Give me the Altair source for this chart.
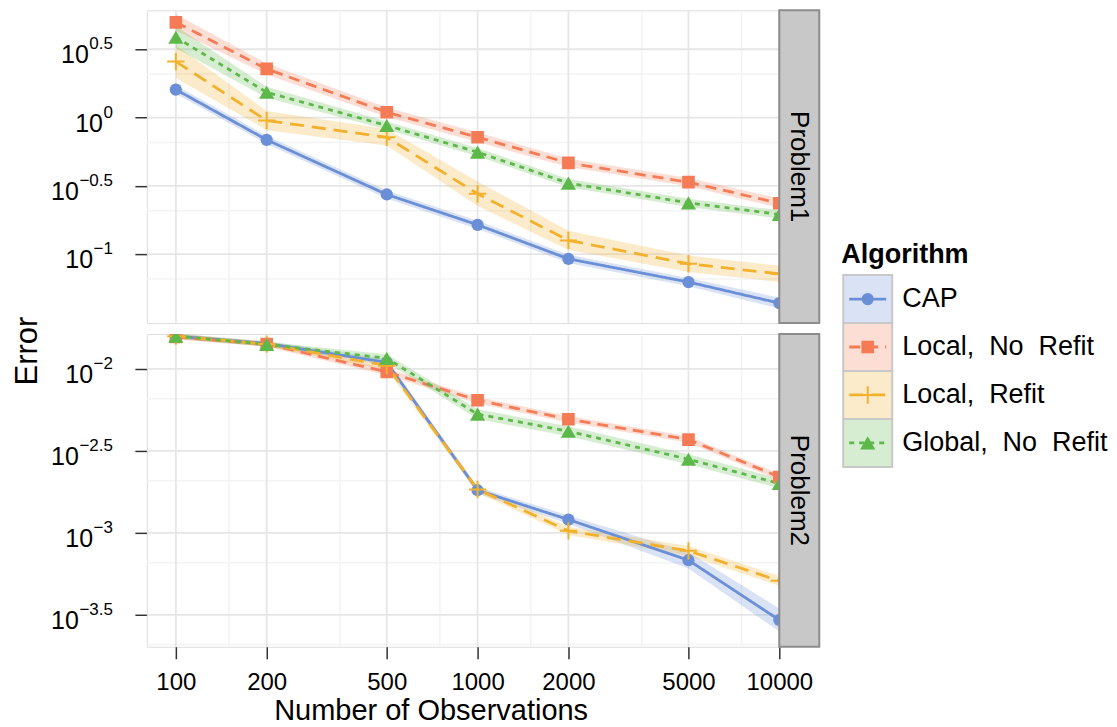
import altair as alt
import pandas as pd

# ---------------- data ----------------
algorithms = ["CAP", "Local, No Refit", "Local, Refit", "Global, No Refit"]
legend_labels = ["CAP", "Local,\u00a0\u00a0No\u00a0\u00a0Refit", "Local,\u00a0\u00a0Refit",
                 "Global,\u00a0\u00a0No\u00a0\u00a0Refit"]
colors = ["#6b8fd6", "#f47b55", "#f2b12c", "#5db84a"]
dashes = [[1, 0], [11, 7], [14, 8], [5, 5]]

n_obs = [100, 200, 500, 1000, 2000, 5000, 10000]
x_minor = [150, 350, 750, 1500, 3500, 7500]

# Problem1 : log10(Error)
p1_cap = [0.205, -0.163, -0.563, -0.785, -1.034, -1.204, -1.358]
p1_local_norefit = [0.697, 0.356, 0.039, -0.144, -0.332, -0.473, -0.627]
p1_local_refit = [0.410, -0.022, -0.144, -0.558, -0.899, -1.070, -1.144]
p1_global_norefit = [0.588, 0.185, -0.058, -0.253, -0.480, -0.624, -0.709]
# ribbon half widths (log10 units)
p1_cap_hw = [0.03, 0.03, 0.03, 0.03, 0.03, 0.03, 0.04]
p1_local_norefit_hw = [0.06, 0.04, 0.035, 0.035, 0.03, 0.03, 0.035]
p1_local_refit_hw = [0.12, 0.07, 0.06, 0.09, 0.07, 0.06, 0.06]
p1_global_norefit_hw = [0.08, 0.04, 0.03, 0.03, 0.03, 0.03, 0.03]

# Problem2 : log10(Error)
p2_cap = [-1.800, -1.845, -1.960, -2.740, -2.919, -3.167, -3.532]
p2_local_norefit = [-1.805, -1.849, -2.018, -2.191, -2.307, -2.431, -2.659]
p2_local_refit = [-1.800, -1.848, -1.980, -2.735, -2.988, -3.110, -3.293]
p2_global_norefit = [-1.800, -1.850, -1.935, -2.276, -2.380, -2.551, -2.699]
p2_cap_hw = [0.015, 0.015, 0.02, 0.02, 0.025, 0.05, 0.07]
p2_local_norefit_hw = [0.015, 0.015, 0.02, 0.02, 0.02, 0.02, 0.02]
p2_local_refit_hw = [0.015, 0.015, 0.025, 0.02, 0.025, 0.03, 0.03]
p2_global_norefit_hw = [0.015, 0.015, 0.025, 0.03, 0.03, 0.03, 0.03]

p1_tick_exps = ["0.5", "0", "\u22120.5", "\u22121"]
p1_tick_logs = [0.5, 0.0, -0.5, -1.0]
p1_minor = [2.081, 0.658, 0.208, 0.0658]
p2_tick_exps = ["\u22122", "\u22122.5", "\u22123", "\u22123.5"]
p2_tick_logs = [-2.0, -2.5, -3.0, -3.5]
p2_minor = [0.00658, 0.00208, 0.000658, 0.000208]

p1_ylim = [-1.504, 0.785]
p2_ylim = [-3.695, -1.787]
x_lim_log = [1.904, 4.0]

FONT = "Liberation Sans"
W, H = 633, 313
STRIP_W = 40


def long_frame(series, spreads):
    rows = []
    for alg, vals, hws in zip(algorithms, series, spreads):
        for n, v, h in zip(n_obs, vals, hws):
            rows.append({"Algorithm": alg, "n": n, "err": 10 ** v,
                         "lo": 10 ** (v - h), "hi": 10 ** (v + h)})
    return pd.DataFrame(rows)


df1 = long_frame([p1_cap, p1_local_norefit, p1_local_refit, p1_global_norefit],
                 [p1_cap_hw, p1_local_norefit_hw, p1_local_refit_hw, p1_global_norefit_hw])
df2 = long_frame([p2_cap, p2_local_norefit, p2_local_refit, p2_global_norefit],
                 [p2_cap_hw, p2_local_norefit_hw, p2_local_refit_hw, p2_global_norefit_hw])

color_enc = alt.Color("Algorithm:N", scale=alt.Scale(domain=algorithms, range=colors), legend=None)
dash_enc = alt.StrokeDash("Algorithm:N", scale=alt.Scale(domain=algorithms, range=dashes), legend=None)

label_x_expr = ("-34.5 - 9.45*length(replace(replace(datum.e, '.', ''), '\u2212', ''))"
                " - (indexof(datum.e, '.') >= 0 ? 4.73 : 0)"
                " - (indexof(datum.e, '\u2212') >= 0 ? 9.93 : 0)")


def panel(df, ylim, tick_exps, tick_logs, minor_vals, strip_label, bottom, with_title):
    xs = alt.Scale(type="log", domain=[10 ** x_lim_log[0], 10 ** x_lim_log[1]], nice=False)
    ys = alt.Scale(type="log", domain=[10 ** ylim[0], 10 ** ylim[1]], nice=False)

    if bottom:
        x_axis = alt.Axis(values=n_obs, format="d", labelFontSize=24, labelColor="black",
                          labelFont=FONT, tickSize=12, tickColor="#333333", tickWidth=1.5,
                          labelPadding=12, domain=False, grid=False, labelFlush=False,
                          labelOverlap=False, title="Number of Observations",
                          titleFontSize=29, titleFontWeight="normal", titleColor="black",
                          titleFont=FONT, titlePadding=2, titleX=284)
    else:
        x_axis = None
    y_axis = alt.Axis(values=[10 ** v for v in tick_logs], labels=False, ticks=True, tickSize=12,
                      tickColor="#333333", tickWidth=1.5, domain=False, grid=False, title=None)

    def X(f):
        return alt.X(f, scale=xs, axis=x_axis)

    def Y(f, **kw):
        return alt.Y(f, scale=ys, axis=y_axis, **kw)

    tick_df = pd.DataFrame({"val": [10 ** v for v in tick_logs], "e": tick_exps})

    layers = [
        alt.Chart(pd.DataFrame({"n": x_minor})).mark_rule(color="#f3f3f3", strokeWidth=1.5)
        .encode(x=X("n:Q")),
        alt.Chart(pd.DataFrame({"v": minor_vals})).mark_rule(color="#f3f3f3", strokeWidth=1.5)
        .encode(y=Y("v:Q")),
        alt.Chart(pd.DataFrame({"n": n_obs})).mark_rule(color="#e6e6e6", strokeWidth=1.8)
        .encode(x=X("n:Q")),
        alt.Chart(tick_df).mark_rule(color="#e6e6e6", strokeWidth=1.8)
        .encode(y=Y("val:Q")),
        alt.Chart(df).mark_area(opacity=0.25, clip=True)
        .encode(x=X("n:Q"), y=Y("lo:Q", stack=False), y2="hi:Q", color=color_enc),
        alt.Chart(df).mark_line(strokeWidth=2.8, clip=True)
        .encode(x=X("n:Q"), y=Y("err:Q"), color=color_enc, strokeDash=dash_enc, detail="Algorithm:N"),
        alt.Chart(df).transform_filter(alt.datum.Algorithm == "CAP")
        .mark_point(shape="circle", filled=True, opacity=1, size=150, clip=True)
        .encode(x=X("n:Q"), y=Y("err:Q"), color=color_enc),
        alt.Chart(df).transform_filter(alt.datum.Algorithm == "Local, No Refit")
        .mark_point(shape="square", filled=True, opacity=1, size=160, clip=True)
        .encode(x=X("n:Q"), y=Y("err:Q"), color=color_enc),
        alt.Chart(df).transform_filter(alt.datum.Algorithm == "Local, Refit")
        .mark_point(shape="M-1,0H1M0,-1V1", filled=False, opacity=1, size=300, strokeWidth=2, clip=True)
        .encode(x=X("n:Q"), y=Y("err:Q"), color=color_enc),
        alt.Chart(df).transform_filter(alt.datum.Algorithm == "Global, No Refit")
        .mark_point(shape="triangle-up", filled=True, opacity=1, size=230, clip=True)
        .encode(x=X("n:Q"), y=Y("err:Q"), color=color_enc),
        # y tick labels 10^e
        alt.Chart(tick_df).transform_calculate(lx=label_x_expr)
        .mark_text(align="right", baseline="alphabetic", dy=14, fontSize=25, font=FONT, color="black")
        .encode(x=alt.X("lx:Q", scale=None), y=Y("val:Q"), text=alt.value("10")),
        alt.Chart(tick_df)
        .mark_text(align="right", baseline="alphabetic", dy=0, fontSize=17, font=FONT, color="black")
        .encode(x=alt.value(-34), y=Y("val:Q"), text="e:N"),
        # facet strip
        alt.Chart(pd.DataFrame({"s": [strip_label]}))
        .mark_rect(fill="#c8c8c8", stroke="#8c8c8c", strokeWidth=2)
        .encode(x=alt.value(W), x2=alt.value(W + STRIP_W), y=alt.value(0), y2=alt.value(H)),
        alt.Chart(pd.DataFrame({"s": [strip_label]}))
        .mark_text(angle=90, align="center", baseline="middle", fontSize=26, font=FONT, color="black")
        .encode(x=alt.value(W + STRIP_W / 2), y=alt.value(H / 2), text="s:N"),
    ]
    if with_title:
        layers.append(
            alt.Chart(pd.DataFrame({"t": ["Error"]}))
            .mark_text(angle=270, align="center", baseline="middle", fontSize=31, font=FONT, color="black")
            .encode(x=alt.value(-119), y=alt.value(341), text="t:N"))
    return alt.layer(*layers).properties(width=W, height=H)


top = panel(df1, p1_ylim, p1_tick_exps, p1_tick_logs, p1_minor, "Problem1", False, True)
bot = panel(df2, p2_ylim, p2_tick_exps, p2_tick_logs, p2_minor, "Problem2", True, False)
panels = alt.vconcat(top, bot, spacing=11, bounds="flush")

# ---------------- legend drawn as a small chart ----------------
leg_df = pd.DataFrame({"Algorithm": algorithms, "label": legend_labels})
ly = alt.Scale(type="band", domain=algorithms, range=[265, 457], paddingInner=0, paddingOuter=0)
lyc = alt.Y("Algorithm:N", scale=ly, axis=None, bandPosition=0.5)
leg = alt.layer(
    alt.Chart(leg_df).mark_rect(stroke="#c8c8c8", strokeWidth=2, fillOpacity=0.25)
    .encode(x=alt.value(2), x2=alt.value(51), y=alt.Y("Algorithm:N", scale=ly, axis=None), color=color_enc),
    alt.Chart(leg_df).mark_rule(strokeWidth=2.8)
    .encode(x=alt.value(8), x2=alt.value(45), y=lyc, color=color_enc, strokeDash=dash_enc),
    alt.Chart(leg_df).transform_filter(alt.datum.Algorithm == "CAP")
    .mark_point(shape="circle", filled=True, opacity=1, size=150)
    .encode(x=alt.value(26.5), y=lyc, color=color_enc),
    alt.Chart(leg_df).transform_filter(alt.datum.Algorithm == "Local, No Refit")
    .mark_point(shape="square", filled=True, opacity=1, size=160)
    .encode(x=alt.value(26.5), y=lyc, color=color_enc),
    alt.Chart(leg_df).transform_filter(alt.datum.Algorithm == "Local, Refit")
    .mark_point(shape="M-1,0H1M0,-1V1", filled=False, opacity=1, size=300, strokeWidth=2)
    .encode(x=alt.value(26.5), y=lyc, color=color_enc),
    alt.Chart(leg_df).transform_filter(alt.datum.Algorithm == "Global, No Refit")
    .mark_point(shape="triangle-up", filled=True, opacity=1, size=230)
    .encode(x=alt.value(26.5), y=lyc, color=color_enc),
    alt.Chart(leg_df).mark_text(align="left", baseline="middle", fontSize=27, font=FONT, color="black")
    .encode(x=alt.value(61), y=lyc, text="label:N"),
    alt.Chart(pd.DataFrame({"t": ["Algorithm"]}))
    .mark_text(align="left", baseline="alphabetic", fontSize=27, fontWeight="bold", font=FONT, color="black")
    .encode(x=alt.value(0), y=alt.value(253), text="t:N"),
).properties(width=265, height=460, view=alt.ViewBackground(stroke="transparent"))

chart = (
    alt.hconcat(panels, leg, spacing=19)
    .properties(padding={"left": 3, "top": 0, "right": 0, "bottom": 0})
    .configure_view(stroke="#8c8c8c", strokeWidth=2)
    .configure(font=FONT)
)

chart.save("out.html", embed_options={"renderer": "svg", "actions": False})
